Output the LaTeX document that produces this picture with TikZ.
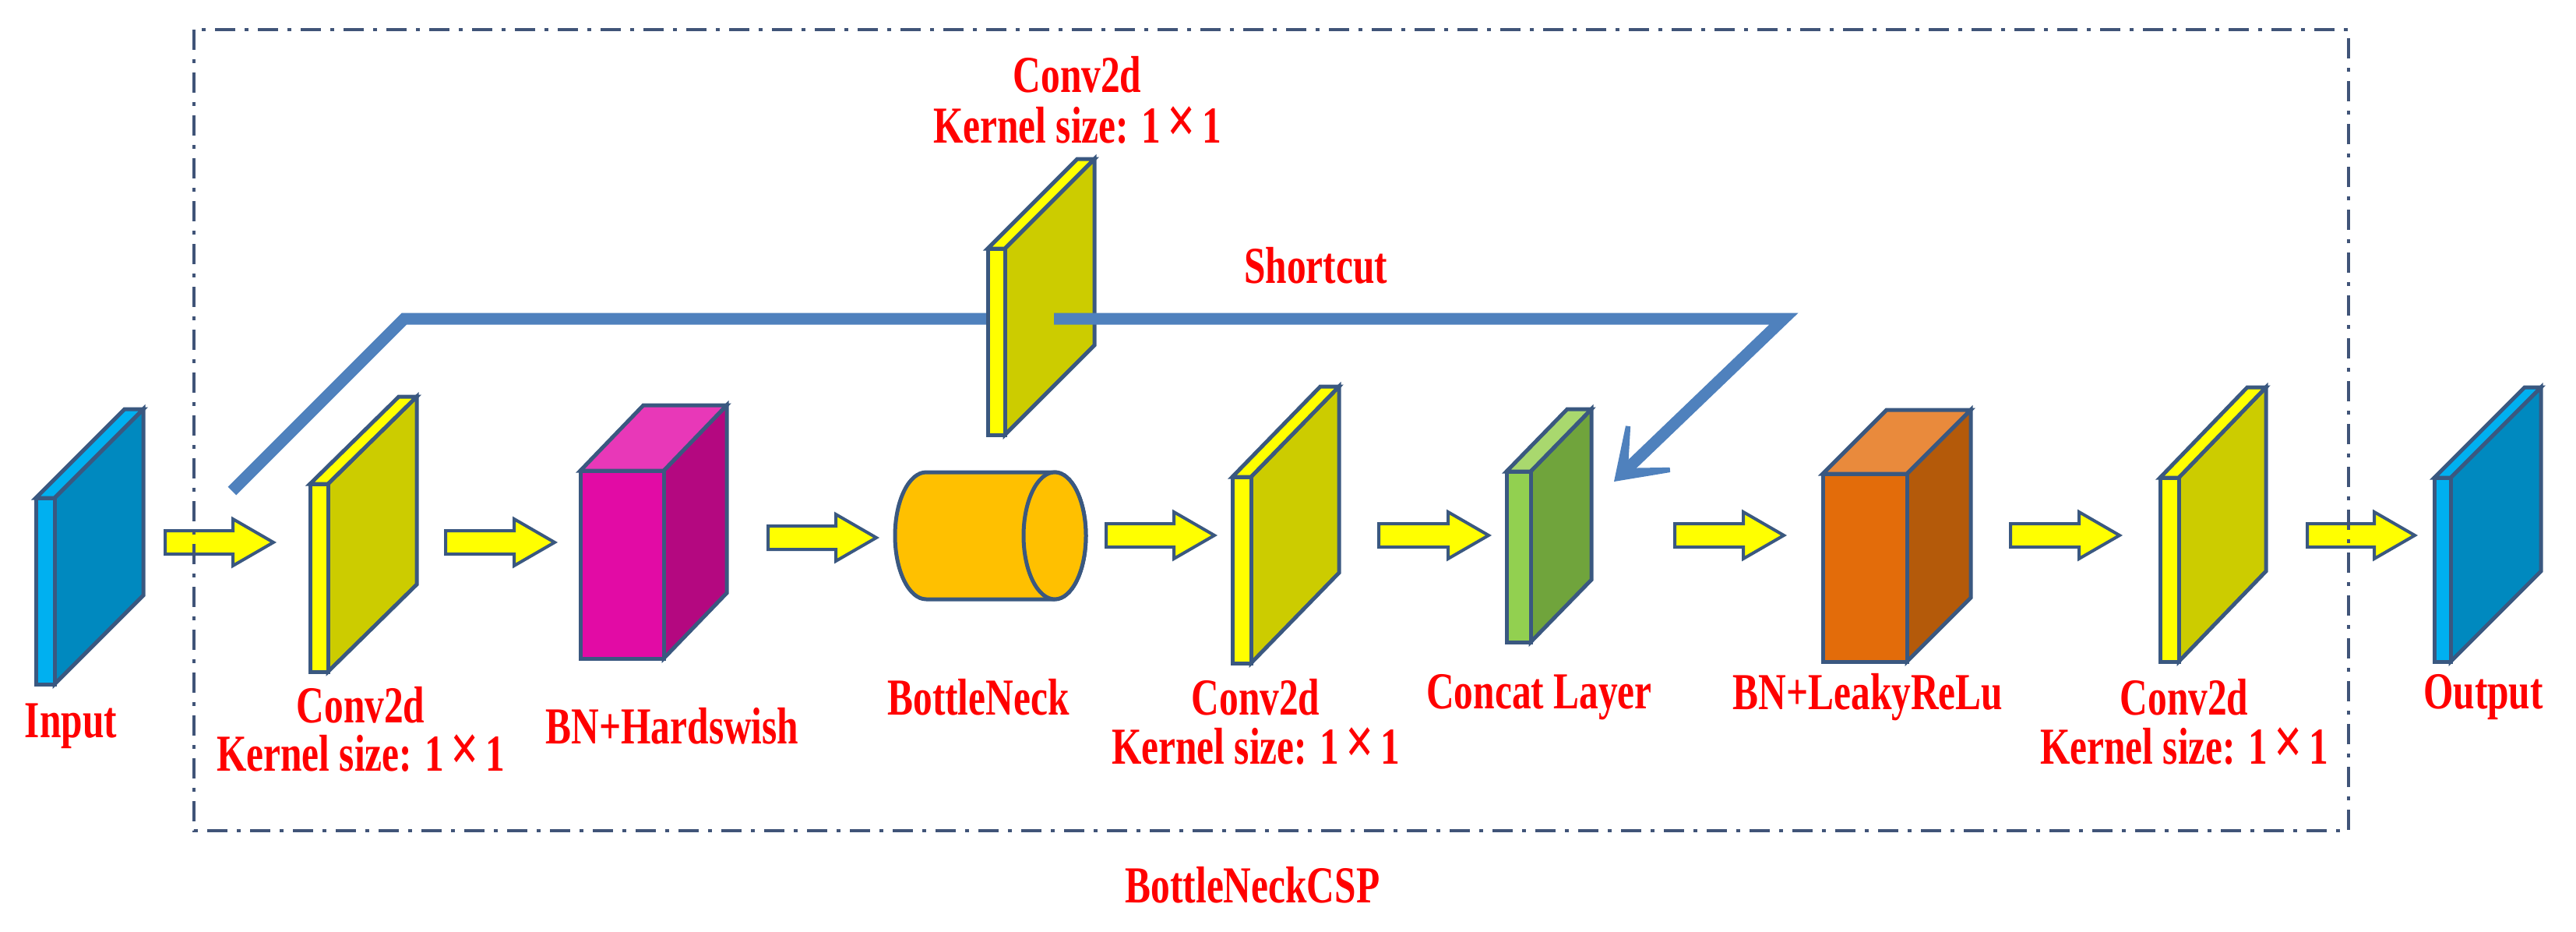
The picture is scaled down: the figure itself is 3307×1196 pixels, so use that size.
\documentclass[tikz,border=0pt]{standalone}
\usepackage{fontspec}
\setmainfont{Liberation Serif}
\usetikzlibrary{arrows.meta}
\definecolor{edge}{RGB}{58,88,128}
\definecolor{sc}{RGB}{79,129,189}
\definecolor{boxc}{RGB}{64,84,120}
\definecolor{cyanF}{RGB}{0,176,240}\definecolor{cyanS}{RGB}{0,137,191}
\definecolor{yelF}{RGB}{255,255,0}\definecolor{yelS}{RGB}{204,204,0}
\definecolor{magF}{RGB}{226,11,165}\definecolor{magS}{RGB}{180,8,128}\definecolor{magT}{RGB}{232,56,184}
\definecolor{orF}{RGB}{227,108,10}\definecolor{orS}{RGB}{180,90,10}\definecolor{orT}{RGB}{233,138,60}
\definecolor{grF}{RGB}{146,208,80}\definecolor{grS}{RGB}{112,164,60}\definecolor{grT}{RGB}{169,216,110}
\definecolor{cyl}{RGB}{255,192,0}
\tikzset{
  shp/.style={draw=edge,line width=5pt,line join=miter},
  lbl/.style={text=red,font=\fontsize{52}{56}\selectfont\bfseries,inner sep=0pt,anchor=center},
}
\newcommand\lt[1]{\scalebox{0.95}[1.28]{#1}}
\newcommand\ks{Kernel size: 1\,\scalebox{1.3}{\texttimes}\,1}
% #1 x, #2 t, #3 ytop, #4 ybot, #5 dx, #6 dy, #7 front, #8 side, #9 top
\newcommand\mypanel[9]{%
  \filldraw[shp,fill=#8] (#1+#2,#3) -- ++(#5,#6) -- (#1+#2+#5,#4+#6) -- (#1+#2,#4) -- cycle;
  \filldraw[shp,fill=#9] (#1,#3) -- (#1+#2,#3) -- ++(#5,#6) -- (#1+#5,#3+#6) -- cycle;
  \filldraw[shp,fill=#7] (#1,#3) rectangle (#1+#2,#4);
}
\newcommand\blockarr[3]{%
  \filldraw[shp,line width=4pt,fill=yelF] (#1,#3-15) -- (#2-52,#3-15) -- (#2-52,#3-30) -- (#2,#3) -- (#2-52,#3+30) -- (#2-52,#3+15) -- (#1,#3+15) -- cycle;
}
\begin{document}
\begin{tikzpicture}[x=1pt,y=-1pt]
\useasboundingbox[fill=white] (0,0) rectangle (3307,1196);
% arrows
\blockarr{212}{351}{696}
\blockarr{572}{712}{696}
\blockarr{986}{1125}{690}
\blockarr{1420}{1559}{687}
\blockarr{1770}{1911}{687}
\blockarr{2150}{2290}{687}
\blockarr{2581}{2721}{687}
\blockarr{2962}{3100}{687}
% dashed box
\draw[boxc,line width=4pt,dash pattern=on 26pt off 12pt on 5pt off 12pt] (249,38) rectangle (3015,1066);
% shortcut (behind top conv)
\coordinate (s0) at (298,630);
\coordinate (s1) at (519,409);
\coordinate (s2) at (1300,409);
\draw[sc,line width=15pt] (s0) -- (s1) -- (s2);
% panels
\mypanel{46}{24}{639}{878}{114}{-114}{cyanF}{cyanS}{cyanF}
\mypanel{398}{23}{621}{862}{114}{-112}{yelF}{yelS}{yelF}
\mypanel{745}{107}{604}{845}{81}{-84}{magF}{magS}{magT}
\mypanel{1268}{22}{319}{558}{115}{-115}{yelF}{yelS}{yelF}
% cylinder
\filldraw[shp,fill=cyl] (1189,606) -- (1354,606) arc[start angle=-90,end angle=90,x radius=40,y radius=81.5] -- (1189,769) arc[start angle=90,end angle=270,x radius=40,y radius=81.5] -- cycle;
\filldraw[shp,fill=cyl] (1354,687.5) ellipse[x radius=40,y radius=81.5];
\mypanel{1582}{24}{612}{851}{113}{-116}{yelF}{yelS}{yelF}
\mypanel{1934}{31}{605}{824}{78}{-80}{grF}{grS}{grT}
\mypanel{2340}{108}{608}{849}{82}{-82}{orF}{orS}{orT}
\mypanel{2773}{24}{613}{849}{112}{-116}{yelF}{yelS}{yelF}
\mypanel{3125}{21}{613}{849}{116}{-116}{cyanF}{cyanS}{cyanF}
% shortcut front part
\coordinate (s3) at (1353,409);
\coordinate (s4) at (2290,409);
\coordinate (s5) at (2072,618);
\draw[sc,line width=15pt,-{Stealth[length=95pt,width=130pt,inset=70pt]}] (s3) -- (s4) -- (s5);
% labels
\node[lbl] (tc1) at (1383,96) {\lt{Conv2d}};
\node[lbl] (tc2) at (1383,161) {\lt{\ks}};
\node[lbl] (shc) at (1689,341) {\lt{Shortcut}};
\node[lbl] (in) at (91,932) {\lt{Input}};
\node[lbl] (c1a) at (463,905) {\lt{Conv2d}};
\node[lbl] (c1b) at (463,967) {\lt{\ks}};
\node[lbl] (bnh) at (863,932) {\lt{BN+Hardswish}};
\node[lbl] (bnk) at (1256,895) {\lt{BottleNeck}};
\node[lbl] (c2a) at (1612,895) {\lt{Conv2d}};
\node[lbl] (c2b) at (1612,958) {\lt{\ks}};
\node[lbl] (cat) at (1976,895) {\lt{Concat Layer}};
\node[lbl] (bnl) at (2398,895) {\lt{BN+LeakyReLu}};
\node[lbl] (c3a) at (2804,895) {\lt{Conv2d}};
\node[lbl] (c3b) at (2804,958) {\lt{\ks}};
\node[lbl] (out) at (3188,895) {\lt{Output}};
\node[lbl] (csp) at (1608,1136) {\lt{BottleNeckCSP}};
\end{tikzpicture}
\end{document}
